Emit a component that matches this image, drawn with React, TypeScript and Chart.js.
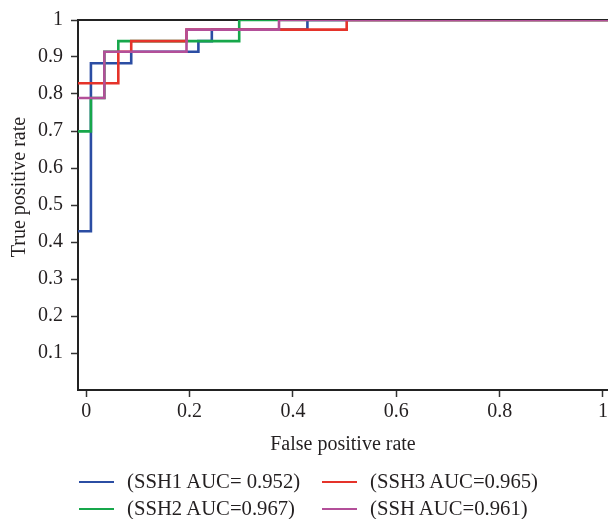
import React, { useEffect, useRef } from "react";
import { Chart, registerables } from "chart.js";
Chart.register(...registerables);

// ---- data (ROC points: false positive rate, true positive rate) ----
const seriesNames = ["(SSH1 AUC= 0.952)", "(SSH2 AUC=0.967)", "(SSH3 AUC=0.965)", "(SSH AUC=0.961)"];
const seriesColors = ["#2b4da3", "#17a74b", "#e5332a", "#b34f99"];

const ssh1Fpr = [-0.016, 0.009, 0.009, 0.087, 0.087, 0.217, 0.217, 0.243, 0.243, 0.428, 0.428, 1.01];
const ssh1Tpr = [0.429, 0.429, 0.883, 0.883, 0.914, 0.914, 0.943, 0.943, 0.974, 0.974, 1, 1];

const ssh2Fpr = [-0.016, 0.009, 0.009, 0.035, 0.035, 0.062, 0.062, 0.296, 0.296, 1.01];
const ssh2Tpr = [0.699, 0.699, 0.789, 0.789, 0.914, 0.914, 0.943, 0.943, 1, 1];

const ssh3Fpr = [-0.016, 0.062, 0.062, 0.087, 0.087, 0.194, 0.194, 0.504, 0.504, 1.01];
const ssh3Tpr = [0.829, 0.829, 0.914, 0.914, 0.943, 0.943, 0.974, 0.974, 1, 1];

const sshFpr = [-0.016, 0.035, 0.035, 0.194, 0.194, 0.373, 0.373, 1.01];
const sshTpr = [0.789, 0.789, 0.914, 0.914, 0.974, 0.974, 1, 1];

const xTicks = [0, 0.2, 0.4, 0.6, 0.8, 1];
const yTicks = [0.1, 0.2, 0.3, 0.4, 0.5, 0.6, 0.7, 0.8, 0.9, 1];
const xTitle = "False positive rate";
const yTitle = "True positive rate";

const FONT = '"Liberation Serif", "Times New Roman", serif';
const TEXT = "#231f20";

const toPoints = (xs: number[], ys: number[]) => xs.map((x, i) => ({ x, y: ys[i] }));

const yTitlePlugin = {
  id: "yTitleCustom",
  afterDraw(chart: any) {
    const ctx = chart.ctx;
    ctx.save();
    ctx.translate(20, 187);
    ctx.rotate(-Math.PI / 2);
    ctx.font = `20px ${FONT}`;
    ctx.fillStyle = TEXT;
    ctx.textAlign = "center";
    ctx.textBaseline = "middle";
    ctx.fillText(yTitle, 0, 0);
    ctx.restore();
  },
};

export default function App() {
  const ref = useRef<HTMLCanvasElement>(null);

  useEffect(() => {
    if (!ref.current) return;
    const series = [
      { fpr: ssh1Fpr, tpr: ssh1Tpr, order: 4 },
      { fpr: ssh2Fpr, tpr: ssh2Tpr, order: 3 },
      { fpr: ssh3Fpr, tpr: ssh3Tpr, order: 2 },
      { fpr: sshFpr, tpr: sshTpr, order: 1 },
    ];
    const font = { family: FONT, size: 20 };
    const frame = { display: true, color: "#222", width: 2 };
    const chart = new Chart(ref.current, {
      type: "scatter",
      data: {
        datasets: series.map((s, i) => ({
          label: seriesNames[i],
          data: toPoints(s.fpr, s.tpr),
          showLine: true,
          borderColor: seriesColors[i],
          backgroundColor: seriesColors[i],
          borderWidth: 2.6,
          pointRadius: 0,
          pointHoverRadius: 0,
          tension: 0,
          clip: 0,
          order: s.order,
        })),
      },
      plugins: [yTitlePlugin],
      options: {
        animation: false,
        responsive: false,
        events: [],
        layout: { padding: { top: 18, left: 0, right: 0, bottom: 59 } },
        plugins: { legend: { display: false }, tooltip: { enabled: false } },
        scales: {
          x: {
            type: "linear",
            position: "bottom",
            min: -0.016,
            max: 1.0096,
            z: 1,
            afterBuildTicks: (s: any) => {
              s.ticks = xTicks.map((v) => ({ value: v }));
            },
            afterFit: (s: any) => {
              s.height = 70;
            },
            ticks: {
              font,
              color: TEXT,
              padding: 3,
              maxRotation: 0,
              autoSkip: false,
              callback: (v: any) => String(Math.round(Number(v) * 10) / 10),
            },
            grid: {
              display: true,
              drawOnChartArea: false,
              drawTicks: true,
              tickLength: 7,
              tickWidth: 1.5,
              tickColor: "#333",
            },
            border: frame,
            title: { display: true, text: xTitle, font, color: TEXT, padding: { top: 0, bottom: 3 } },
          },
          xTop: {
            type: "linear",
            position: "top",
            min: -0.016,
            max: 1.0096,
            z: 1,
            afterFit: (s: any) => {
              s.height = 0;
            },
            ticks: { display: false },
            grid: { display: false, drawTicks: false },
            border: frame,
          },
          y: {
            type: "linear",
            min: 0,
            max: 1,
            z: 1,
            afterBuildTicks: (s: any) => {
              s.ticks = yTicks.map((v) => ({ value: v }));
            },
            afterFit: (s: any) => {
              s.width = 78;
            },
            ticks: {
              font,
              color: TEXT,
              padding: 8,
              autoSkip: false,
              callback: (v: any) => String(Math.round(Number(v) * 10) / 10),
            },
            grid: {
              display: true,
              drawOnChartArea: false,
              drawTicks: true,
              tickLength: 7,
              tickWidth: 1.5,
              tickColor: "#333",
            },
            border: frame,
          },
        },
      },
    } as any);
    return () => chart.destroy();
  }, []);

  const legendItems = [0, 1, 2, 3];

  return (
    <div style={{ position: "absolute", left: 0, top: 0, width: 611, height: 519, background: "#fff", overflow: "hidden" }}>
      <canvas ref={ref} width={611} height={519} style={{ display: "block" }} />
      <div
        style={{
          position: "absolute",
          left: 79,
          top: 468,
          display: "grid",
          gridTemplateColumns: "243px 243px",
          gridTemplateRows: "27px 27px",
          gridAutoFlow: "column",
          fontFamily: FONT,
          fontSize: 20.7,
          color: TEXT,
        }}
      >
        {legendItems.map((i) => (
          <div key={i} style={{ display: "flex", alignItems: "center", whiteSpace: "nowrap" }}>
            <span style={{ display: "inline-block", width: 35, height: 2, background: seriesColors[i], marginRight: 13 }} />
            <span style={{ lineHeight: "27px" }}>{seriesNames[i]}</span>
          </div>
        ))}
      </div>
    </div>
  );
}
